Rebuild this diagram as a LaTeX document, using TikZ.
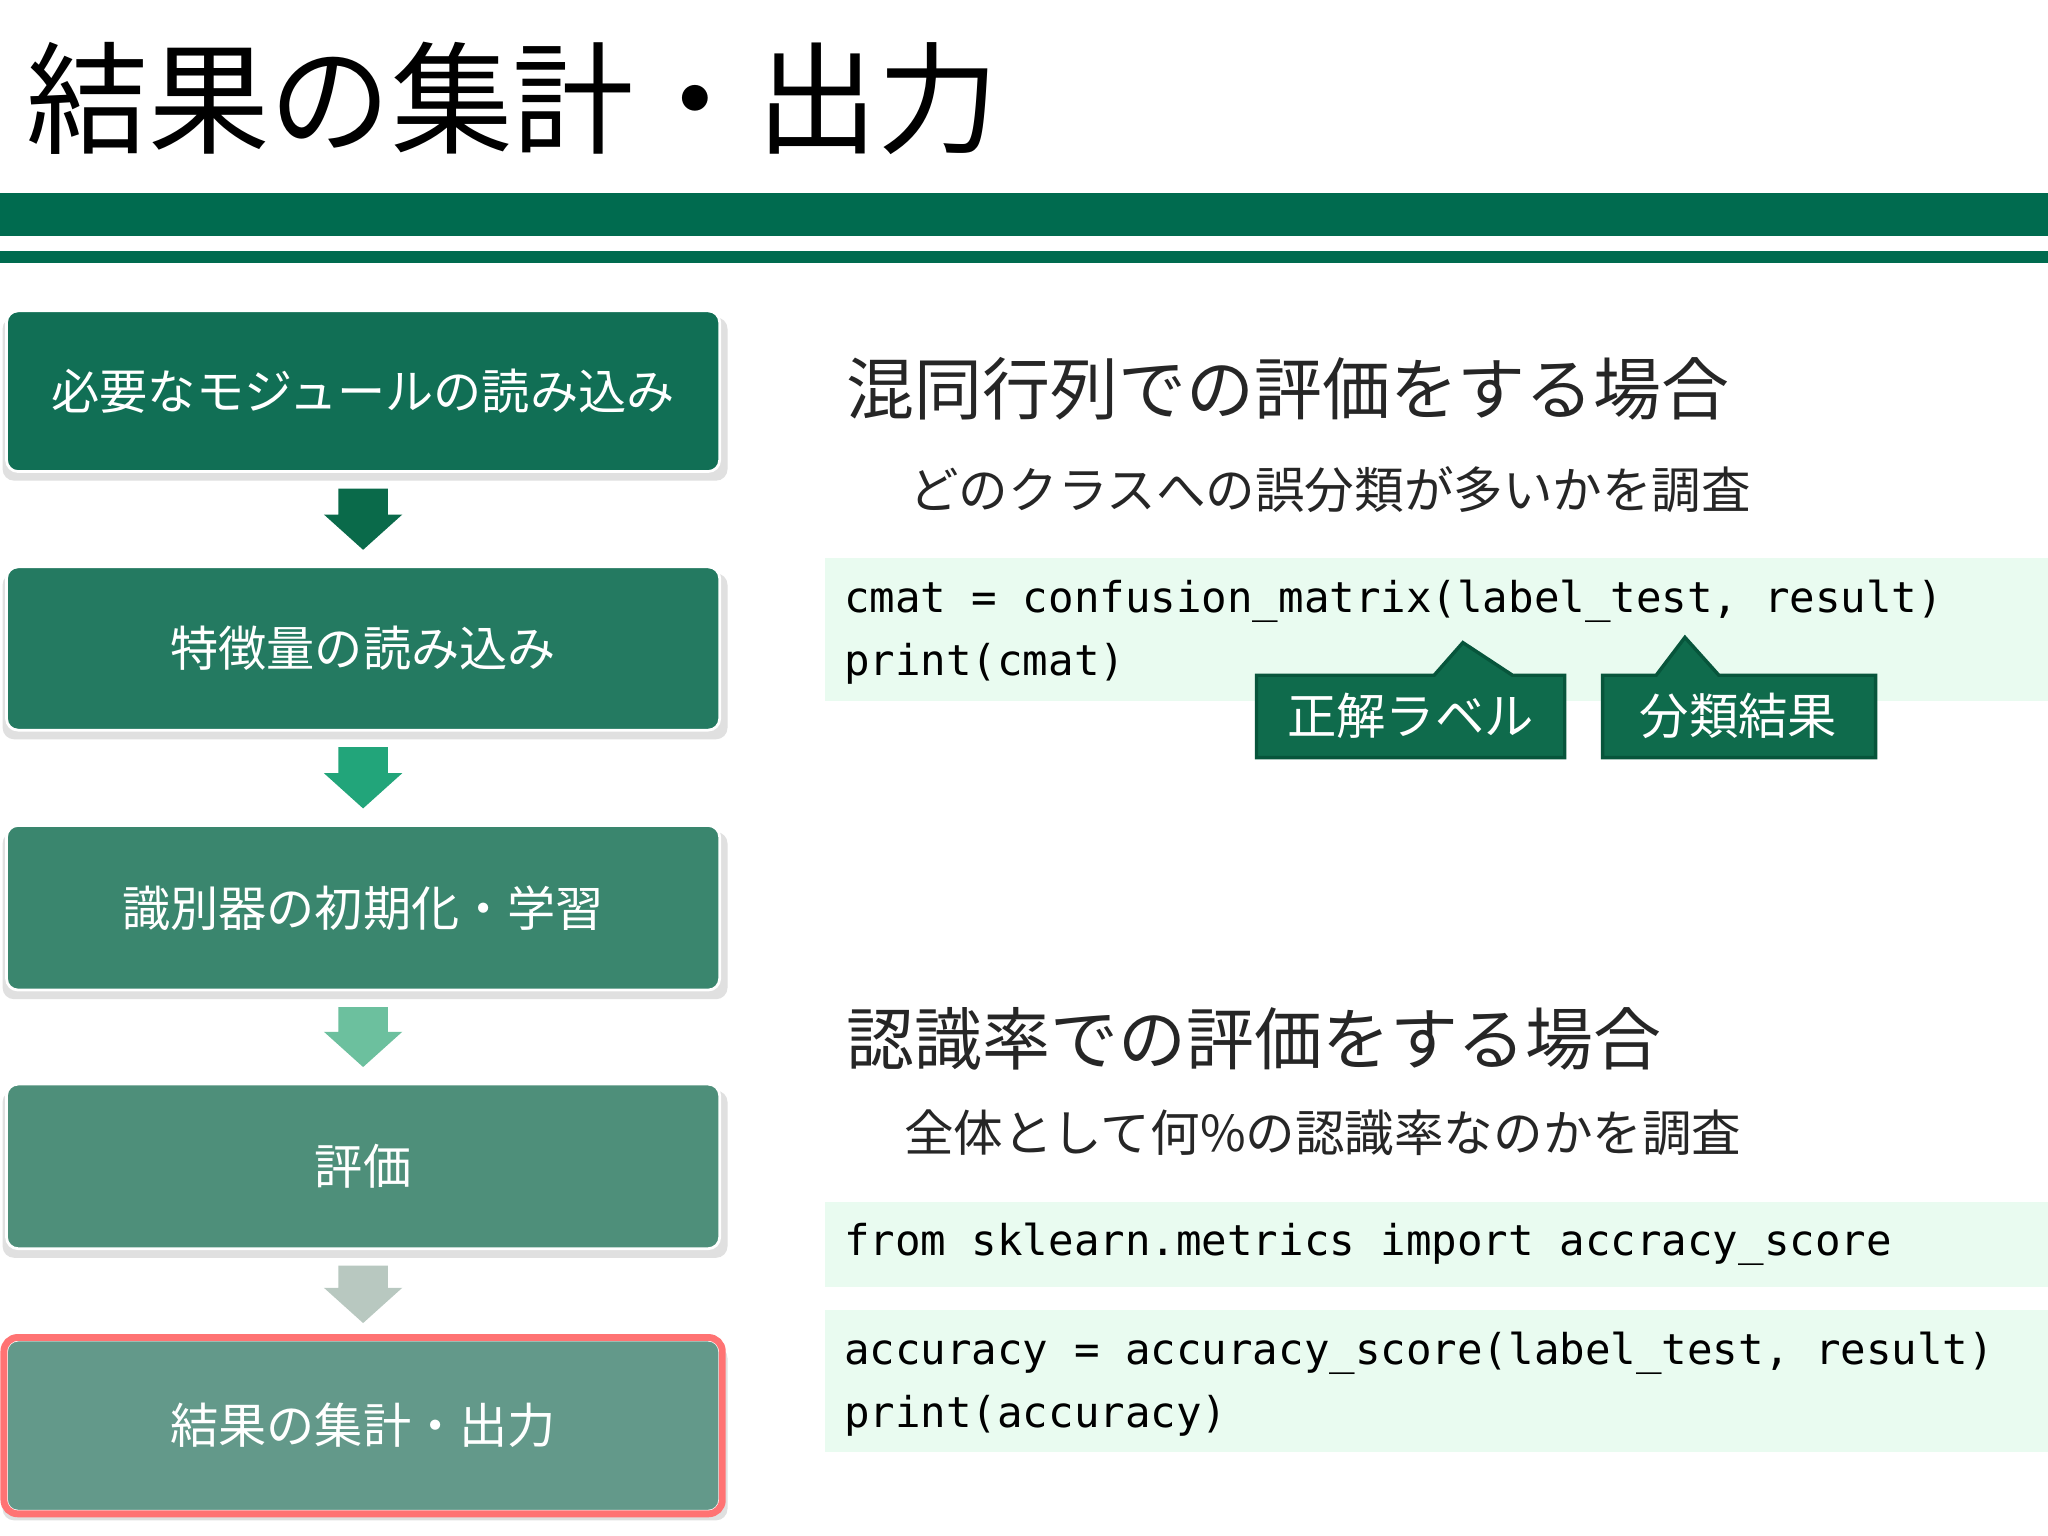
\documentclass[tikz,border=0pt]{standalone}
\usepackage{fontspec}
\setmainfont{Noto Sans CJK JP}
\newfontfamily\codefont{DejaVu Sans Mono}
\definecolor{callfill}{HTML}{0F6B4C}
\definecolor{calldraw}{HTML}{07553B}
\definecolor{codebg}{HTML}{E9FBF0}
\begin{document}
\begin{tikzpicture}[x=0.02cm,y=-0.02cm,
  stepbox/.style={draw=white,line width=1.2pt,rounded corners=5pt,text=white,font=\fontsize{21}{25}\selectfont},
  code/.style={anchor=west,font=\codefont\fontsize{18.5}{27.5}\selectfont,align=left,text=black},
  call/.style={fill=callfill,draw=calldraw,line width=1.5pt},
  calltxt/.style={text=white,font=\fontsize{21.5}{25}\selectfont}]
\useasboundingbox (0,0) rectangle (1568,1176);
\fill[white] (0,0) rectangle (1568,1176);
\definecolor{bar}{HTML}{006B4F}
\node[anchor=west,font=\fontsize{53}{60}\selectfont] (title) at (14,75) {結果の集計・出力};
\fill[bar] (0,148) rectangle (1568,181);
\fill[bar] (0,192) rectangle (1568,201);
% boxes
\foreach \n/\ya/\yb/\c/\t in {1/238/361/116F55/必要なモジュールの読み込み,2/434/559/247A61/特徴量の読み込み,3/632/758/3A866E/識別器の初期化・学習,4/830/956/4E8F7A/評価,5/1026/1157/63998A/結果の集計・出力}{
  \definecolor{bc}{HTML}{\c}
  \fill[black!12,rounded corners=5pt] (2,\ya+5) rectangle (557,\yb+7);
  \node[stepbox,fill=bc,minimum width=546*0.02cm,minimum height={(\yb-\ya)*0.02cm}] (b\n) at (278,{(\ya+\yb)/2}) {\t};
}
\draw[draw=red!55!white,line width=3pt,rounded corners=6pt] (3,1024) rectangle (553,1159);
% arrows
\foreach \i/\j/\c in {1/2/0A6A4A,2/3/22A57A,3/4/6CC09E,4/5/B8C8C0}{
  \definecolor{ac}{HTML}{\c}
  \path (b\i.south) ++(0,12) coordinate (s\i);
  \path (b\j.north) ++(0,-12) coordinate (e\i);
  \fill[ac] ([xshift=-19*0.02cm]s\i) -- ([xshift=19*0.02cm]s\i) -- ([xshift=19*0.02cm,yshift=27*0.02cm]e\i) -- ([xshift=30*0.02cm,yshift=27*0.02cm]e\i) -- (e\i) -- ([xshift=-30*0.02cm,yshift=27*0.02cm]e\i) -- ([xshift=-19*0.02cm,yshift=27*0.02cm]e\i) -- cycle;
}
% right side
\node[anchor=west,font=\fontsize{29.6}{34}\selectfont,text=black!85] (h1) at (642,298) {混同行列での評価をする場合};
\node[anchor=west,font=\fontsize{21.6}{25}\selectfont,text=black!85] (s1) at (690,375) {どのクラスへの誤分類が多いかを調査};
\fill[codebg] (632,427) rectangle (1568,537);
\node[code] (c1) at (640,484) {cmat = confusion\_matrix(label\_test, result)\\print(cmat)};
\path[call] (962,517) -- (1098,517) -- (1120,492) -- (1158,517) -- (1198,517) -- (1198,580) -- (962,580) -- cycle;
\node[calltxt] (l1) at (1080,548) {正解ラベル};
\path[call] (1227,517) -- (1268,517) -- (1290,488) -- (1316,517) -- (1436,517) -- (1436,580) -- (1227,580) -- cycle;
\node[calltxt] (l2) at (1331,548) {分類結果};
\node[anchor=west,font=\fontsize{29.6}{34}\selectfont,text=black!85] (h2) at (642,795) {認識率での評価をする場合};
\node[anchor=west,font=\fontsize{21.6}{25}\selectfont,text=black!85] (s2) at (686,867) {全体として何\%の認識率なのかを調査};
\fill[codebg] (632,920) rectangle (1568,985);
\node[code] (c2) at (640,953) {from sklearn.metrics import accracy\_score};
\fill[codebg] (632,1003) rectangle (1568,1112);
\node[code] (c3) at (640,1060) {accuracy = accuracy\_score(label\_test, result)\\print(accuracy)};
\end{tikzpicture}
\end{document}
